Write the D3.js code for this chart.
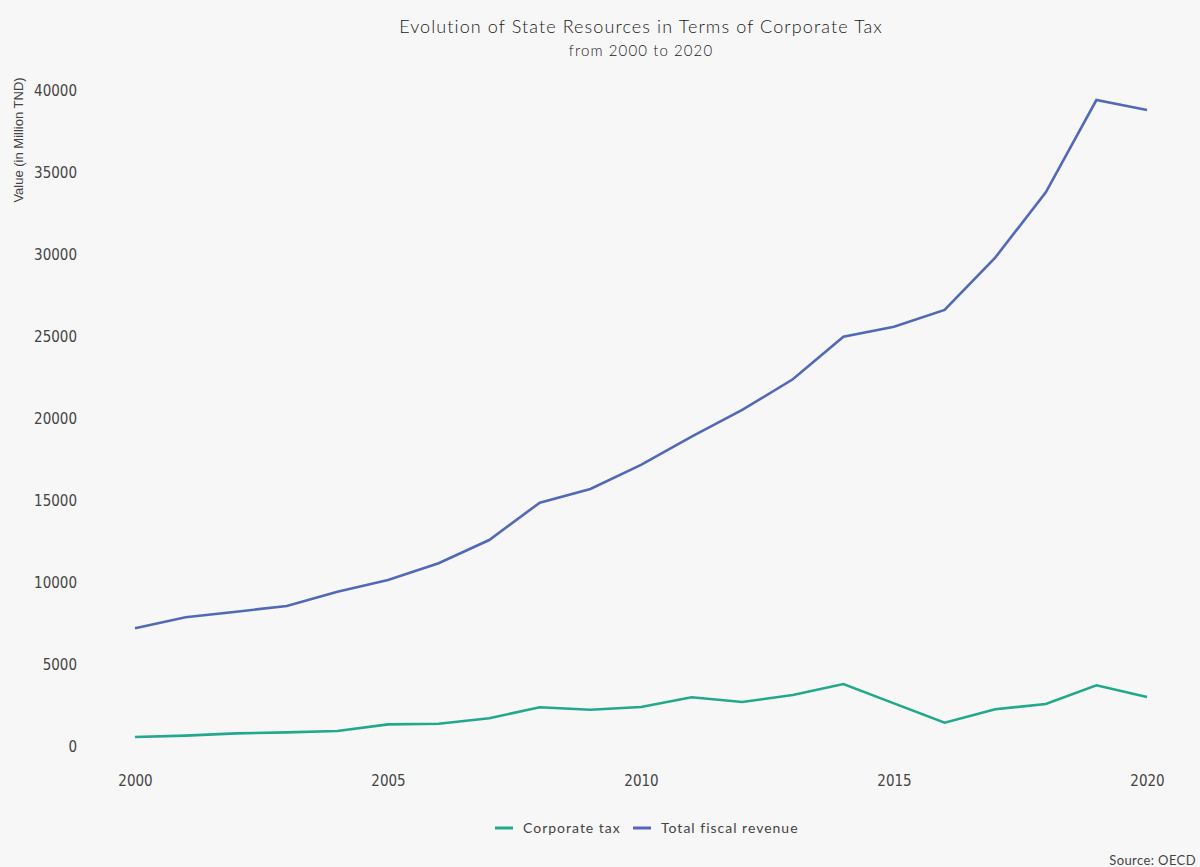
<!DOCTYPE html>
<html>
<head>
<meta charset="utf-8">
<script src="https://cdn.jsdelivr.net/npm/d3@7"></script>
<style>
  html, body { margin: 0; padding: 0; background: #f7f7f7; }
  svg { display: block; }
  .tick text { font-family: "DejaVu Sans Condensed", "DejaVu Sans", sans-serif; font-stretch: condensed; }
</style>
</head>
<body>
<svg id="chart" width="1200" height="867"></svg>
<script>
// Years on the x axis
const years = d3.range(2000, 2021);

// Corporate tax revenue (million TND)
const corporateTax = [550, 630, 770, 830, 915, 1320, 1360, 1690, 2360, 2215, 2380,
                      2970, 2680, 3110, 3780, 2600, 1420, 2240, 2560, 3700, 2990];

// Total fiscal revenue (million TND)
const totalRevenue = [7180, 7850, 8190, 8540, 9400, 10120, 11140, 12560, 14840, 15670, 17140,
                      18860, 20490, 22360, 24960, 25570, 26590, 29780, 33760, 39390, 38780];

const seriesNames = ["Corporate tax", "Total fiscal revenue"];
const seriesColors = ["#22a88a", "#5269b8"];
const xTicks = [2000, 2005, 2010, 2015, 2020];
const yTicks = [0, 5000, 10000, 15000, 20000, 25000, 30000, 35000, 40000];

const svg = d3.select("#chart");
const W = 1200, H = 867;

svg.append("rect").attr("width", W).attr("height", H).attr("fill", "#f7f7f7");

const x = d3.scaleLinear().domain([2000, 2020]).range([135, 1147]);
const y = d3.scaleLinear().domain([0, 40000]).range([746, 90]);

// Title and subtitle
svg.append("text")
  .attr("x", 641).attr("y", 33)
  .attr("text-anchor", "middle")
  .attr("font-family", "Lato, 'Open Sans', sans-serif")
  .attr("font-size", 18)
  .attr("font-weight", 300)
  .attr("fill", "#1a1a1a")
  .style("letter-spacing", "1.1px")
  .text("Evolution of State Resources in Terms of Corporate Tax");

svg.append("text")
  .attr("x", 641).attr("y", 56)
  .attr("text-anchor", "middle")
  .attr("font-family", "Lato, 'Open Sans', sans-serif")
  .attr("font-size", 15)
  .attr("font-weight", 300)
  .attr("fill", "#1a1a1a")
  .style("letter-spacing", "1.1px")
  .text("from 2000 to 2020");

// Y axis (labels only)
const yAxis = d3.axisLeft(y).tickValues(yTicks).tickSize(0).tickPadding(0).tickFormat(d3.format("d"));
const gy = svg.append("g").attr("transform", "translate(77,0)").call(yAxis);
gy.select(".domain").remove();
gy.selectAll("text").attr("font-size", 15).attr("fill", "#444").attr("dy", "0.35em");

// X axis (labels only)
const xAxis = d3.axisBottom(x).tickValues(xTicks).tickSize(0).tickPadding(0).tickFormat(d3.format("d"));
const gx = svg.append("g").attr("transform", "translate(0,775)").call(xAxis);
gx.select(".domain").remove();
gx.selectAll("text").attr("font-size", 15).attr("fill", "#444").attr("dy", "0.71em");

// Y axis title
svg.append("text")
  .attr("transform", "translate(23,140) rotate(-90)")
  .attr("text-anchor", "middle")
  .attr("font-family", "'Liberation Sans', Arial, sans-serif")
  .attr("font-size", 13)
  .attr("fill", "#444")
  .text("Value (in Million TND)");

// Lines
const line = d3.line().x((d, i) => x(years[i])).y(d => y(d));
[corporateTax, totalRevenue].forEach((vals, k) => {
  svg.append("path")
    .datum(vals)
    .attr("d", line)
    .attr("fill", "none")
    .attr("stroke", seriesColors[k])
    .attr("stroke-width", 2.6)
    .attr("stroke-linejoin", "miter");
});

// Legend
const legendItems = [{x: 495}, {x: 633}];
legendItems.forEach((it, k) => {
  const g = svg.append("g").attr("transform", `translate(${it.x},828)`);
  g.append("line").attr("x1", 0).attr("x2", 18).attr("y1", 0).attr("y2", 0)
    .attr("stroke", seriesColors[k]).attr("stroke-width", 3);
  g.append("text").attr("x", 28).attr("y", 0).attr("dy", "0.35em")
    .attr("font-family", "Lato, 'Open Sans', sans-serif")
    .attr("font-size", 14).attr("fill", "#444")
    .style("letter-spacing", "1px")
    .text(seriesNames[k]);
});

// Source note
svg.append("text")
  .attr("x", 1196).attr("y", 865)
  .attr("text-anchor", "end")
  .attr("font-family", "Lato, 'Open Sans', sans-serif")
  .attr("font-size", 13).attr("fill", "#444")
  .style("letter-spacing", "0.4px")
  .text("Source: OECD");
</script>
</body>
</html>
